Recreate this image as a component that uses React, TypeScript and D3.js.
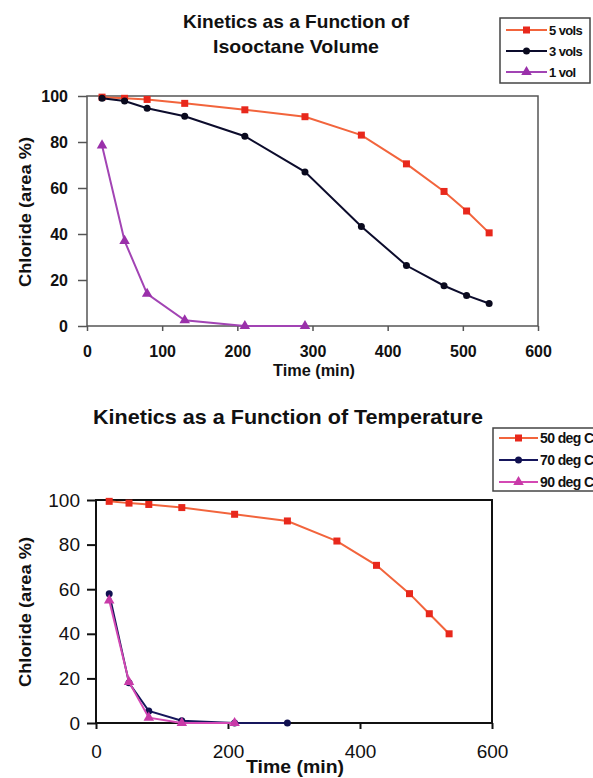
import React, { useRef, useEffect } from 'react';
import * as d3 from 'd3';

// time points (min)
const timeLong = [20, 50, 80, 130, 210, 290, 365, 425, 475, 505, 535];
const timeShort = [20, 50, 80, 130, 210, 290];
const time90 = [20, 50, 80, 130, 210];

// chart 1 - isooctane volume
const vols5 = [99.5, 99, 98.5, 96.8, 94, 91, 83, 70.5, 58.5, 50, 40.5];
const vols3 = [99, 97.8, 94.7, 91.2, 82.5, 67, 43.3, 26.3, 17.5, 13.3, 9.8];
const vol1 = [78.5, 37, 14, 2.5, 0, 0];

// chart 2 - temperature
const deg50 = [99.4, 98.6, 98, 96.6, 93.6, 90.6, 81.6, 70.7, 58, 49, 40];
const deg70 = [58, 18, 5.4, 1, 0, 0];
const deg90 = [55, 18.4, 2.4, 0, 0];

const xTicks1 = [0, 100, 200, 300, 400, 500, 600];
const xTicks2 = [0, 200, 400, 600];
const yTicks = [0, 20, 40, 60, 80, 100];

const FONT = "'Liberation Sans', Arial, Helvetica, sans-serif";

const App = () => {
  const ref = useRef(null);

  useEffect(() => {
    const svg = d3.select(ref.current);
    svg.selectAll('*').remove();

    const drawMarker = (g, kind, color, cx, cy, s) => {
      if (kind === 'square') {
        g.append('rect').attr('x', cx - s / 2).attr('y', cy - s / 2)
          .attr('width', s).attr('height', s).attr('fill', color);
      } else if (kind === 'circle') {
        g.append('circle').attr('cx', cx).attr('cy', cy).attr('r', s / 2).attr('fill', color);
      } else {
        g.append('path')
          .attr('d', d3.symbol(d3.symbolTriangle, s * s * 0.75)())
          .attr('transform', `translate(${cx},${cy})`)
          .attr('fill', color);
      }
    };

    const drawChart = (cfg) => {
      const { x, y, series, border, borderWidth } = cfg;
      const g = svg.append('g');

      // plot box
      g.append('rect')
        .attr('x', x.range()[0]).attr('y', y.range()[1])
        .attr('width', x.range()[1] - x.range()[0])
        .attr('height', y.range()[0] - y.range()[1])
        .attr('fill', 'white')
        .attr('stroke', border).attr('stroke-width', borderWidth);

      // axes
      const yAxis = g.append('g')
        .attr('transform', `translate(${x.range()[0]},0)`)
        .call(d3.axisLeft(y).tickValues(yTicks).tickSize(cfg.yTickSize).tickPadding(cfg.yPad));
      const xAxis = g.append('g')
        .attr('transform', `translate(0,${y.range()[0]})`)
        .call(d3.axisBottom(x).tickValues(cfg.xTicks).tickSize(cfg.xTickSize).tickPadding(cfg.xPad));
      [xAxis, yAxis].forEach((a) => {
        a.select('.domain').remove();
        a.selectAll('line').attr('stroke', border).attr('stroke-width', borderWidth);
        a.selectAll('text')
          .attr('fill', '#111')
          .style('font-family', FONT)
          .style('font-size', cfg.tickFont + 'px')
          .style('font-weight', cfg.tickWeight);
      });

      // series
      const line = d3.line().x((d) => x(d[0])).y((d) => y(d[1]));
      series.forEach((s) => {
        const pts = s.t.map((t, i) => [t, s.v[i]]);
        g.append('path')
          .attr('fill', 'none')
          .attr('stroke', s.line)
          .attr('stroke-width', 2)
          .attr('d', line(pts));
        pts.forEach((p) => drawMarker(g, s.marker, s.color, x(p[0]), y(p[1]), s.size));
      });

      // titles
      cfg.title.forEach((t) => {
        g.append('text')
          .attr('x', t.x).attr('y', t.y)
          .attr('text-anchor', 'middle')
          .attr('textLength', t.len)
          .attr('lengthAdjust', 'spacingAndGlyphs')
          .style('font-family', FONT).style('font-weight', 'bold')
          .style('font-size', t.size + 'px')
          .attr('fill', '#111')
          .text(t.text);
      });

      // axis labels
      g.append('text')
        .attr('x', cfg.xLabel.x).attr('y', cfg.xLabel.y)
        .attr('text-anchor', 'middle')
        .attr('textLength', cfg.xLabel.len)
        .attr('lengthAdjust', 'spacingAndGlyphs')
        .style('font-family', FONT).style('font-weight', 'bold')
        .style('font-size', cfg.xLabel.size + 'px')
        .attr('fill', '#111')
        .text('Time (min)');
      g.append('text')
        .attr('transform', `translate(${cfg.yLabel.x},${cfg.yLabel.y}) rotate(-90)`)
        .attr('text-anchor', 'middle')
        .attr('textLength', cfg.yLabel.len)
        .attr('lengthAdjust', 'spacingAndGlyphs')
        .style('font-family', FONT).style('font-weight', 'bold')
        .style('font-size', cfg.yLabel.size + 'px')
        .attr('fill', '#111')
        .text('Chloride (area %)');

      // legend
      const L = cfg.legend;
      const lg = g.append('g');
      lg.append('rect')
        .attr('x', L.x).attr('y', L.y).attr('width', L.w).attr('height', L.h)
        .attr('fill', 'white').attr('stroke', '#444').attr('stroke-width', 1.5);
      series.forEach((s, i) => {
        const ly = L.y + L.first + i * L.step;
        lg.append('line')
          .attr('x1', L.x + 6).attr('x2', L.x + 6 + L.lineLen)
          .attr('y1', ly).attr('y2', ly)
          .attr('stroke', s.line).attr('stroke-width', 2);
        drawMarker(lg, s.marker, s.color, L.x + 6 + L.lineLen / 2, ly, s.size);
        lg.append('text')
          .attr('x', L.x + 8 + L.lineLen).attr('y', ly)
          .attr('dy', '0.35em')
          .style('font-family', FONT).style('font-weight', 'bold')
          .style('font-size', L.font + 'px')
          .style('letter-spacing', '-0.6px')
          .attr('fill', '#111')
          .text(s.name);
      });
    };

    // chart 1
    drawChart({
      x: d3.scaleLinear().domain([0, 600]).range([87, 538]),
      y: d3.scaleLinear().domain([0, 100]).range([326, 96]),
      border: '#555', borderWidth: 1.5,
      xTicks: xTicks1, xTickSize: 5, xPad: 15, yTickSize: 9, yPad: 10,
      tickFont: 16, tickWeight: 'bold',
      title: [
        { text: 'Kinetics as a Function of', x: 296, y: 28, len: 226, size: 19 },
        { text: 'Isooctane Volume', x: 296, y: 53, len: 166, size: 19 },
      ],
      xLabel: { x: 314, y: 376, len: 82, size: 16 },
      yLabel: { x: 31, y: 212, len: 150, size: 16 },
      legend: { x: 500, y: 18, w: 90, h: 65, first: 12, step: 21, lineLen: 41, font: 13 },
      series: [
        { name: '5 vols', t: timeLong, v: vols5, line: '#f2643c', color: '#e8281c', marker: 'square', size: 7 },
        { name: '3 vols', t: timeLong, v: vols3, line: '#0c0c2c', color: '#0a0a1e', marker: 'circle', size: 7 },
        { name: '1 vol', t: timeShort, v: vol1, line: '#a244b4', color: '#9a30aa', marker: 'triangle', size: 8 },
      ],
    });

    // chart 2
    drawChart({
      x: d3.scaleLinear().domain([0, 600]).range([96, 492]),
      y: d3.scaleLinear().domain([0, 100]).range([723, 500]),
      border: '#111', borderWidth: 2,
      xTicks: xTicks2, xTickSize: 6, xPad: 16, yTickSize: 9, yPad: 7,
      tickFont: 19, tickWeight: 'normal',
      title: [
        { text: 'Kinetics as a Function of Temperature', x: 288, y: 424, len: 390, size: 21 },
      ],
      xLabel: { x: 295, y: 773, len: 98, size: 18 },
      yLabel: { x: 31, y: 612, len: 150, size: 16 },
      legend: { x: 493, y: 428, w: 110, h: 63, first: 10, step: 22, lineLen: 39, font: 14 },
      series: [
        { name: '50 deg C', t: timeLong, v: deg50, line: '#f2643c', color: '#e8281c', marker: 'square', size: 7 },
        { name: '70 deg C', t: timeShort, v: deg70, line: '#16165c', color: '#101050', marker: 'circle', size: 7 },
        { name: '90 deg C', t: time90, v: deg90, line: '#d448b4', color: '#c83aa8', marker: 'triangle', size: 8 },
      ],
    });
  }, []);

  return (
    <svg
      ref={ref}
      width={593}
      height={778}
      style={{ position: 'absolute', left: 0, top: 0, background: 'white' }}
    />
  );
};

export default App;
